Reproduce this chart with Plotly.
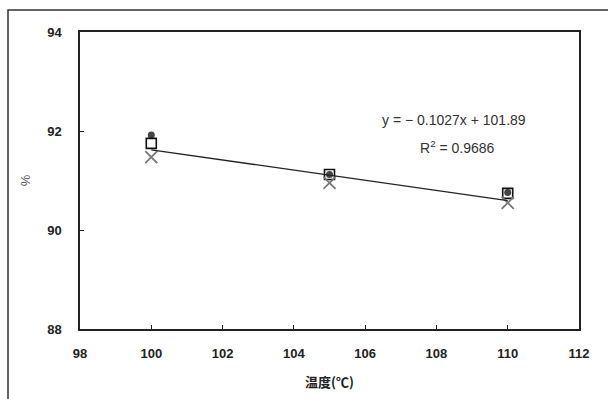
import plotly.graph_objects as go

temps = [100, 105, 110]
series_circle = [91.92, 91.12, 90.76]
series_square = [91.75, 91.12, 90.74]
series_x = [91.47, 90.95, 90.55]
slope = -0.1027
intercept = 101.89
eq_text = "y = \u2212 0.1027x + 101.89"
r2_text = "R<sup>2</sup> = 0.9686"
x_ticks = [98, 100, 102, 104, 106, 108, 110, 112]
y_ticks = [88, 90, 92, 94]

fig = go.Figure()
fig.add_trace(go.Scatter(x=temps, y=series_circle, mode="markers",
                         marker=dict(symbol="circle", size=7, color="#444444"), showlegend=False))
fig.add_trace(go.Scatter(x=temps, y=series_square, mode="markers",
                         marker=dict(symbol="square-open", size=10, color="#111111", line=dict(width=1.6)),
                         showlegend=False))
fig.add_trace(go.Scatter(x=temps, y=series_x, mode="markers",
                         marker=dict(symbol="x-thin-open", size=12, color="#777777", line=dict(width=1.8, color="#777777")),
                         showlegend=False))
fx = [temps[0], temps[-1]]
fig.add_trace(go.Scatter(x=fx, y=[slope * v + intercept for v in fx], mode="lines",
                         line=dict(color="#222222", width=1.3), showlegend=False))

tickfont = dict(family="Liberation Sans, Arial, sans-serif", size=13, color="#222222", weight="bold")
fig.update_layout(
    width=608, height=399, margin=dict(l=80, r=29, t=32, b=70),
    paper_bgcolor="white", plot_bgcolor="white",
    font=dict(family="Liberation Sans, Arial, sans-serif", size=12, color="#222222"),
    xaxis=dict(range=[98, 112], tickvals=x_ticks, showgrid=False, zeroline=False,
               showline=True, linecolor="#222222", linewidth=1.5, mirror=True,
               ticks="inside", ticklen=4, tickcolor="#222222", ticklabelstandoff=12,
               tickfont=tickfont,
               title=dict(text="温度(℃)", font=dict(family="Noto Sans CJK SC", size=13, weight="bold"), standoff=18)),
    yaxis=dict(range=[88, 94], tickvals=y_ticks, showgrid=False, zeroline=False,
               showline=True, linecolor="#222222", linewidth=1.5, mirror=True,
               ticks="inside", ticklen=4, tickcolor="#222222", ticklabelstandoff=14,
               tickfont=tickfont,
               title=dict(text="%", font=dict(size=13, color="#555555"), standoff=14)),
)

fig.add_annotation(x=380, y=120, xref="paper", yref="paper", text=eq_text, showarrow=False,
                   xanchor="left", yanchor="middle", font=dict(size=14, color="#333333"))
fig.add_annotation(x=457, y=147, xref="paper", yref="paper", text=r2_text, showarrow=False,
                   xanchor="center", yanchor="middle", font=dict(size=14, color="#333333"))
# convert pixel positions to paper coords
for ann in fig.layout.annotations:
    px, py = ann.x, ann.y
    ann.x = (px - 80) / 499
    ann.y = 1 - (py - 32) / 297

fig.add_shape(type="rect", xref="paper", yref="paper", x0=-0.1443, x1=1.12, y0=-0.3, y1=1.074,
              line=dict(color="#333333", width=1.5), fillcolor="rgba(0,0,0,0)", layer="below")

fig.write_html("out.html")
